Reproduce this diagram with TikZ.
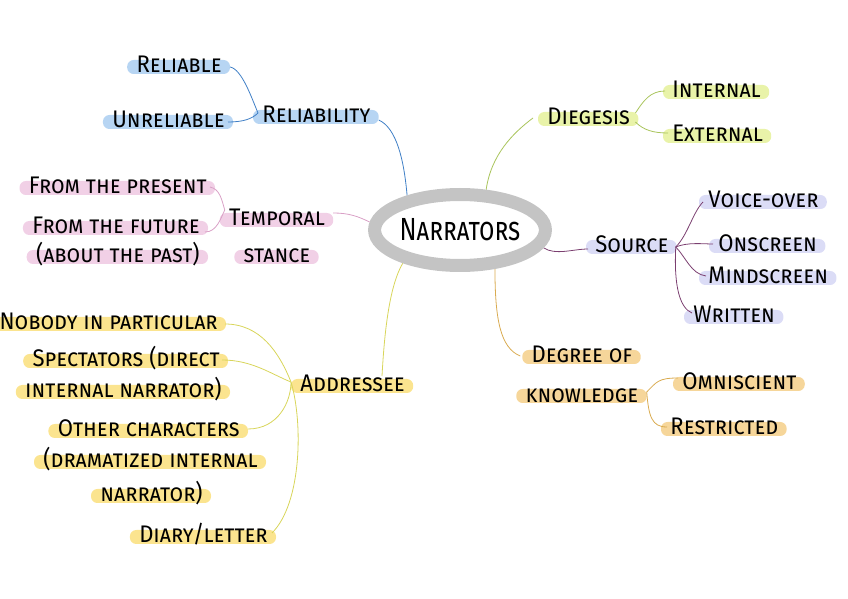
\documentclass[tikz,border=0pt]{standalone}
\usepackage{fontspec}
\setmainfont{Fira Sans}[FakeStretch=0.92]
\newfontfamily\narfont{Fira Sans}[FakeStretch=0.78]
\usetikzlibrary{calc,backgrounds,shapes.geometric}
\definecolor{blueHl}{HTML}{B7D5F3}
\definecolor{blueLn}{HTML}{3F7FC6}
\definecolor{pinkHl}{HTML}{F1D0E6}
\definecolor{pinkLn}{HTML}{D9A0C6}
\definecolor{greenHl}{HTML}{E9F3A9}
\definecolor{greenLn}{HTML}{A9C45C}
\definecolor{lilacHl}{HTML}{DBDCF6}
\definecolor{lilacLn}{HTML}{7B3F70}
\definecolor{orangeHl}{HTML}{F6D69A}
\definecolor{orangeLn}{HTML}{D9AB50}
\definecolor{yellowHl}{HTML}{FBE48F}
\definecolor{yellowLn}{HTML}{D8D55A}
\definecolor{ringGray}{HTML}{C4C4C4}
\begin{document}
\begin{tikzpicture}[x=0.5pt,y=-0.5pt,
  item/.style={font=\fontsize{12}{14}\selectfont\scshape,inner sep=0pt},
  branch/.style={line width=1.6pt}]
  \useasboundingbox (0,0) rectangle (848,599);
  \node[ellipse,draw=ringGray,line width=6.5pt,minimum width=81pt,minimum height=35.5pt,
    inner sep=0pt,font=\fontsize{16}{18}\selectfont\narfont\scshape] (nar) at (460,230) {Narrators};
  % labels with their highlighter bars
  \foreach \n/\a/\x/\y/\c/\lbl in {
    rel/base west/262/123/blue/Reliability, rel1/base east/222/73/blue/Reliable,
    rel2/base east/225/128/blue/Unreliable,
    tmp1/base/277/226/pink/Temporal, tmp2/base/277/263/pink/stance,
    tmp3/base east/207/194/pink/From the present, tmp4/base east/200/234/pink/From the future,
    tmp5/base east/200/263/pink/(about the past),
    dieg/base west/547/125/green/Diegesis, die1/base west/672/98/green/Internal,
    die2/base west/672/142/green/External,
    src/base west/595/253/lilac/Source, src1/base west/708/208/lilac/Voice-over,
    src2/base west/718/252/lilac/Onscreen, src3/base west/708/284/lilac/Mindscreen,
    src4/base west/693/323/lilac/Written,
    deg1/base/582/363/orange/Degree of, deg2/base/582/402/orange/knowledge,
    deg3/base west/682/390/orange/Omniscient, deg4/base west/670/435/orange/Restricted,
    adr/base west/300/392/yellow/Addressee,
    adr1/base east/218/330/yellow/Nobody in particular,
    adr2/base east/220/367/yellow/Spectators (direct,
    adr3/base east/222/398/yellow/internal narrator),
    adr4/base east/240/437/yellow/Other characters,
    adr5/base east/258/468/yellow/(dramatized internal,
    adr6/base east/203/502/yellow/narrator),
    adr7/base east/268/543/yellow/{Diary/letter}}{
    \node[item,anchor=\a] (\n) at (\x,\y) {\lbl};
    \begin{scope}[on background layer]
      \fill[\c Hl,rounded corners=3.2pt] ($(\n.base west)+(-9,1)$) rectangle ($(\n.base east)+(8,-13)$);
    \end{scope}
  }
  \begin{scope}[on background layer,branch]
    % reliability
    \draw[blueLn] ($(rel1.base east)+(8,-6)$) .. controls +(12,2) and +(-6,-14) .. ($(rel.base west)+(-4,-10)$);
    \draw[blueLn] ($(rel2.base east)+(3,-6)$) .. controls +(15,0) and +(-6,6) .. ($(rel.base west)+(-4,-10)$);
    \draw[blueLn] ($(rel.base east)+(8,-3)$) .. controls +(18,8) and +(-3,-35) .. (nar.147);
    % temporal stance
    \coordinate (tmpL) at ($(tmp1.base west)+(-4,-16)$);
    \draw[pinkLn] ($(tmp3.base east)+(3,-7)$) .. controls +(10,2) and +(-3,-10) .. (tmpL);
    \draw[pinkLn] ($(tmp4.base east)+(5,-2)$) .. controls +(12,0) and +(-4,8) .. (tmpL);
    \draw[pinkLn] ($(tmp1.base east)+(8,-13)$) .. controls +(15,0) and +(-12,-6) .. (nar.175);
    % diegesis
    \draw[greenLn] (nar.57) .. controls +(5,-35) and +(-20,15) .. ($(dieg.base west)+(-14,-7)$);
    \draw[greenLn] ($(dieg.base east)+(5,-12)$) .. controls +(8,-12) and +(-15,0) .. ($(die1.base west)+(-7,-7)$);
    \draw[greenLn] ($(dieg.base east)+(5,-3)$) .. controls +(8,8) and +(-15,0) .. ($(die2.base west)+(-4,-9)$);
    % source
    \coordinate (srcR) at ($(src.base east)+(7,-6)$);
    \draw[lilacLn] (nar.-12) .. controls +(12,8) and +(-15,0) .. ($(src.base west)+(-7,-4)$);
    \draw[lilacLn] (srcR) .. controls +(12,-12) and +(-10,10) .. ($(src1.base west)+(-5,-6)$);
    \draw[lilacLn] (srcR) .. controls +(12,-5) and +(-10,0) .. ($(src2.base west)+(-5,-8)$);
    \draw[lilacLn] (srcR) .. controls +(10,10) and +(-15,-2) .. ($(src3.base west)+(-2,-8)$);
    \draw[lilacLn] (srcR) .. controls +(-2,40) and +(-12,-5) .. ($(src4.base west)+(-1,-10)$);
    % degree of knowledge
    \coordinate (degR) at ($(deg2.base east)+(8,-10)$);
    \draw[orangeLn] (nar.-48) .. controls +(0,50) and +(-20,-8) .. ($(deg1.base west)+(-11,-7)$);
    \draw[orangeLn] (degR) .. controls +(10,-10) and +(-20,0) .. ($(deg3.base west)+(-4,-12)$);
    \draw[orangeLn] (degR) .. controls +(2,25) and +(-15,0) .. ($(deg4.base west)+(-3,-8)$);
    % addressee
    \coordinate (adrL) at ($(adr.base west)+(-9,-10)$);
    \draw[yellowLn] (nar.-150) .. controls +(-15,25) and +(2,-35) .. ($(adr.base west)+(82,-16)$);
    \draw[yellowLn] ($(adr1.base east)+(7,-6)$) .. controls +(35,0) and +(-12,-30) .. (adrL);
    \draw[yellowLn] ($(adr2.base east)+(2,-7)$) .. controls +(30,0) and +(-20,-8) .. (adrL);
    \draw[yellowLn] ($(adr4.base east)+(8,-8)$) .. controls +(30,0) and +(0,20) .. (adrL);
    \draw[yellowLn] ($(adr7.base east)+(4,-10)$) .. controls +(30,-30) and +(12,40) .. (adrL);
  \end{scope}
\end{tikzpicture}
\end{document}
